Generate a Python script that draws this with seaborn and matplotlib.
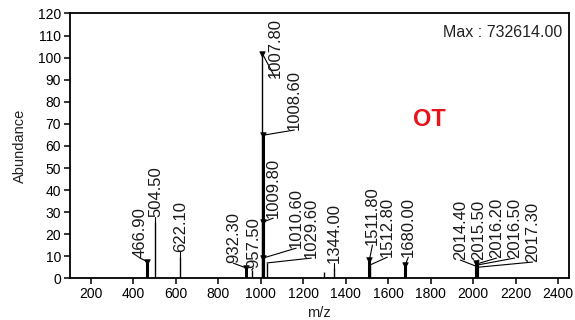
import numpy as np
import pandas as pd
import matplotlib
matplotlib.use("Agg")
import matplotlib.pyplot as plt
import seaborn as sns

sns.set_style("ticks")
plt.rcParams['font.family'] = ['Liberation Sans', 'DejaVu Sans']

# peaks
mz = [466.9, 504.5, 622.1, 932.3, 957.5, 1007.8, 1008.6, 1009.8, 1010.6, 1029.6,
      1299.0, 1344.0, 1511.8, 1512.8, 1680.0, 2014.4, 2015.5, 2016.2, 2016.5, 2017.3]
abundance = [7.5, 25.6, 9.8, 4.7, 3.8, 101.8, 64.8, 25.5, 9.2, 7.0,
             2.8, 4.6, 8.3, 6.0, 6.0, 5.5, 7.0, 6.5, 6.0, 5.0]
labels = ["466.90", "504.50", "622.10", "932.30", "957.50", "1007.80", "1008.60",
          "1009.80", "1010.60", "1029.60", "", "1344.00", "1511.80", "1512.80",
          "1680.00", "2014.40", "2015.50", "2016.20", "2016.50", "2017.30"]

# where the rotated labels sit (x centre, y bottom), layout only
label_x = [432, 504.5, 622.1, 871, 965, 1069, 1158, 1059, 1167, 1238,
           0, 1344, 1526, 1596, 1695, 1940, 2025, 2110, 2195, 2280]
label_y = [9.2, 27.8, 11.9, 6.9, 4.7, 90.7, 67.2, 27.3, 13.7, 9.2,
           0, 6.9, 15.1, 9.6, 9.6, 8.3, 8.3, 9.2, 9.2, 7.4]
marked = [True, False, False, True, False, True, True, True, True, False,
          False, False, True, False, True, False, True, False, False, False]
thick = [True, False, False, True, False, False, True, True, True, False,
         False, False, True, False, True, True, True, True, True, True]

df = pd.DataFrame({"mz": mz, "abundance": abundance, "label": labels,
                   "marked": marked})

fig = plt.figure(figsize=(5.75, 3.2), dpi=100)
ax = fig.add_axes([0.121, 0.130, 0.868, 0.828])

widths = [2.2 if t else 1.0 for t in thick]
ax.vlines(df["mz"], 0, df["abundance"], colors="black", linewidth=widths, zorder=2)
sns.scatterplot(data=df[df["marked"]], x="mz", y="abundance", marker="v", s=16,
                color="black", edgecolor="black", linewidth=0.5, ax=ax,
                legend=False, zorder=3)

for i, row in df.iterrows():
    if not row["label"]:
        continue
    ax.plot([row["mz"], label_x[i]], [row["abundance"], label_y[i]],
            color="black", lw=0.8, zorder=2)
    ax.text(label_x[i], label_y[i], row["label"], rotation=90, ha="center",
            va="bottom", fontsize=12, color="#1a1a1a")

ax.text(0.987, 0.958, "Max : 732614.00", transform=ax.transAxes, ha="right",
        va="top", fontsize=11.5, color="#222222")
ax.text(0.72, 0.60, "OT", transform=ax.transAxes, ha="center", va="center",
        fontsize=17, fontweight="bold", color="#e8141c")

ax.set_xlim(100, 2450)
ax.set_ylim(0, 120)
ax.set_xticks(np.arange(200, 2401, 200))
ax.set_yticks(np.arange(0, 121, 10))
ax.tick_params(direction="out", length=4, width=1.1, labelsize=10, pad=2,
               colors="black")
for s in ax.spines.values():
    s.set_linewidth(1.3)
    s.set_color("black")

ax.set_xlabel("m/z", fontsize=10.5, color="#222222")
ax.set_ylabel("Abundance", fontsize=10.5, color="#222222")
ax.xaxis.set_label_coords(0.5, -0.105)
ax.yaxis.set_label_coords(-0.085, 0.5)

fig.savefig("out.png", dpi=100)
